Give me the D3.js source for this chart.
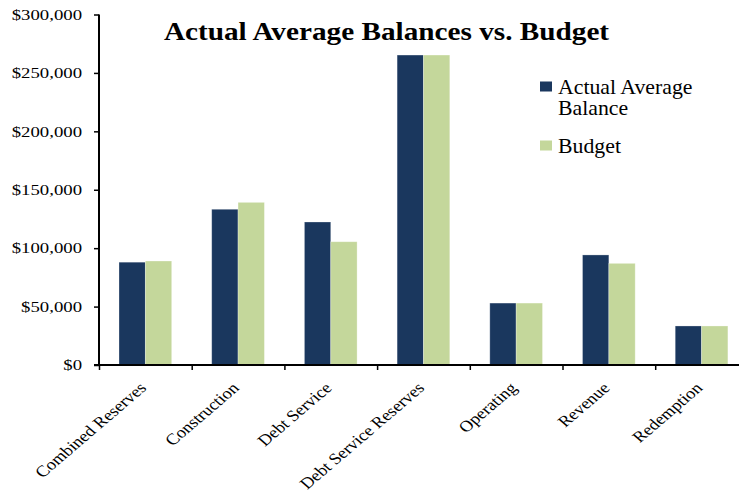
<!DOCTYPE html>
<html><head><meta charset="utf-8">
<script src="https://cdn.jsdelivr.net/npm/d3@7"></script>
<style>body{margin:0;background:#fff}svg{display:block}</style>
</head><body>
<script>
const categories = ["Combined Reserves","Construction","Debt Service","Debt Service Reserves","Operating","Revenue","Redemption"];
const actual = [88000, 133300, 122400, 265300, 53000, 94200, 33400];
const budget = [89000, 139200, 105500, 265300, 53000, 87000, 33400];
const seriesNames = ["Actual Average Balance","Budget"];
const yTicks = [0,50000,100000,150000,200000,250000,300000];
const colors = ["#1A375E","#C4D79B"];

const W=739,H=494;
const svg=d3.select("body").append("svg").attr("width",W).attr("height",H);
const font="'Liberation Serif','Times New Roman',serif";

const y=d3.scaleLinear().domain([0,300000]).range([365,14.5]);
const x0=99, step=92.7;
const xb=d3.scaleBand().domain(categories).range([x0,x0+step*categories.length]).paddingInner(0).paddingOuter(0);
const xs=d3.scaleBand().domain([0,1]).range([0,xb.bandwidth()]).paddingInner(0).paddingOuter(0.76);
const xIdx=d3.scaleLinear().domain([0,categories.length]).range([x0,x0+step*categories.length]);

// bars
const data=categories.map((c,i)=>({c,v:[actual[i],budget[i]]}));
const g=svg.append("g");
data.forEach(d=>{
  d.v.forEach((v,s)=>{
    g.append("rect").attr("x",xb(d.c)+xs(s)).attr("y",y(v))
     .attr("width",xs.bandwidth()).attr("height",y(0)-y(v))
     .attr("fill",colors[s]).attr("stroke","rgba(255,255,255,0.35)").attr("stroke-width",0.8);
  });
});

// y axis
const ya=svg.append("g").attr("transform",`translate(${x0},0)`)
  .call(d3.axisLeft(y).tickValues(yTicks).tickSize(5).tickFormat(d=>"$"+d3.format(",")(d)));
ya.select(".domain").attr("stroke","#000").attr("stroke-width",2).attr("d",`M0,${y(300000)}V${y(0)+1}`);
ya.selectAll(".tick line").attr("stroke","#000").attr("stroke-width",1.5);
ya.selectAll(".tick text").attr("font-family",font).attr("font-size",15).attr("fill","#000")
  .attr("transform","scale(1.25,1)").attr("x",-17/1.25);

// x axis
const xa=svg.append("g").attr("transform",`translate(0,${y(0)})`)
  .call(d3.axisBottom(xIdx).tickValues(d3.range(0,categories.length+1)).tickSize(5).tickFormat(""));
xa.select(".domain").attr("stroke","#000").attr("stroke-width",2).attr("d",`M${x0-5},0H${W}`);
xa.selectAll(".tick line").attr("stroke","#000").attr("stroke-width",1.5);

// category labels
svg.append("g").selectAll("text").data(categories).join("text")
  .attr("transform",d=>`translate(${xb(d)+xb.bandwidth()/2+2},${y(0)+24}) scale(1.17,1) rotate(-45)`)
  .attr("text-anchor","end").attr("font-family",font).attr("font-size",15.8).attr("fill","#000")
  .text(d=>d);

// title
svg.append("text").attr("transform","translate(386.5,40) scale(1.17,1)").attr("text-anchor","middle")
  .attr("font-family",font).attr("font-weight","bold").attr("font-size",25).attr("fill","#000")
  .text("Actual Average Balances vs. Budget");

// legend
const lg=svg.append("g");
lg.append("rect").attr("x",540).attr("y",81.5).attr("width",12).attr("height",10).attr("fill",colors[0]);
lg.append("text").attr("transform","translate(558,94) scale(1.09,1)").attr("font-family",font).attr("font-size",20).attr("fill","#000")
  .text("Actual Average");
lg.append("text").attr("transform","translate(558,115) scale(1.09,1)").attr("font-family",font).attr("font-size",20).attr("fill","#000")
  .text("Balance");
lg.append("rect").attr("x",540).attr("y",140.5).attr("width",12).attr("height",10).attr("fill",colors[1]);
lg.append("text").attr("transform","translate(558,153) scale(1.09,1)").attr("font-family",font).attr("font-size",20).attr("fill","#000")
  .text("Budget");
</script>
</body></html>
